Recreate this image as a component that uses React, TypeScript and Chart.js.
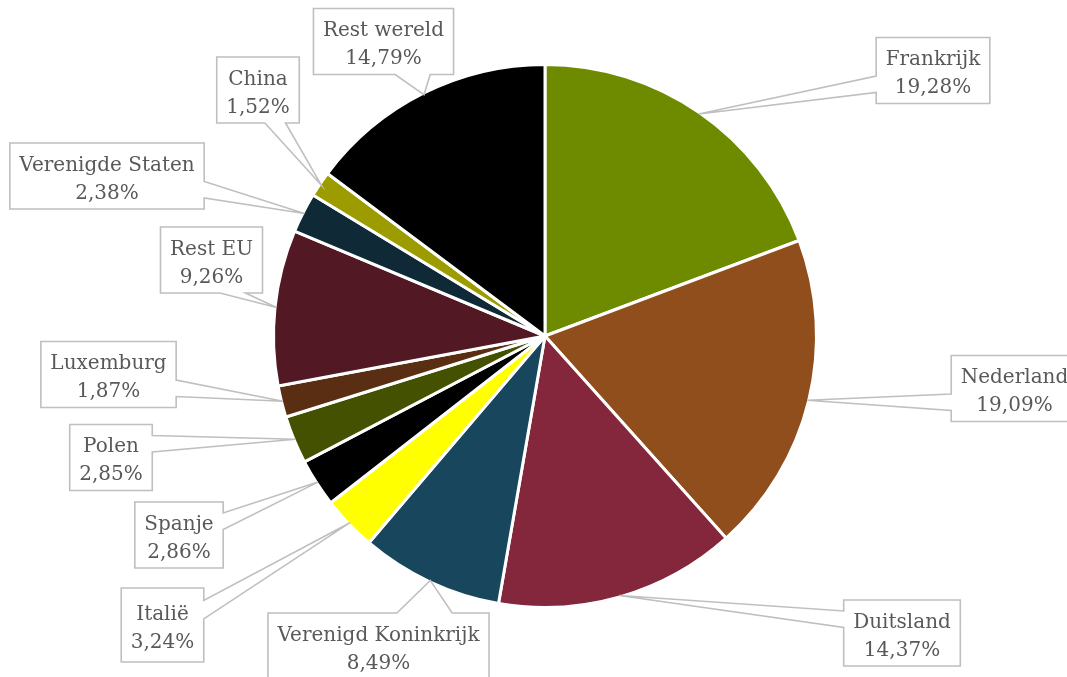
import React, { useEffect, useRef } from "react";
import { Chart, registerables } from "chart.js";

Chart.register(...registerables);

// ---------- data ----------
const categories = [
  "Frankrijk",
  "Nederland",
  "Duitsland",
  "Verenigd Koninkrijk",
  "Italië",
  "Spanje",
  "Polen",
  "Luxemburg",
  "Rest EU",
  "Verenigde Staten",
  "China",
  "Rest wereld",
];
const shares = [19.28, 19.09, 14.37, 8.49, 3.24, 2.86, 2.85, 1.87, 9.26, 2.38, 1.52, 14.79];
const sliceColors = [
  "#6E8B00",
  "#8F4E1B",
  "#84263C",
  "#18475D",
  "#FFFF00",
  "#000000",
  "#435100",
  "#5A2E12",
  "#521823",
  "#0F2A36",
  "#9C9C00",
  "#000000",
];

// ---------- layout (callout box centres / heights) ----------
const calloutCenters: [number, number][] = [
  [933, 70.5],
  [1014.5, 388.5],
  [902, 633],
  [378.5, 646],
  [162.5, 625],
  [179, 535],
  [111, 457.5],
  [108.5, 374.5],
  [211.5, 260],
  [107, 176],
  [258, 90],
  [383.5, 41.5],
];
const calloutHeights = [66, 66, 66, 66, 74, 66, 66, 66, 66, 66, 66, 66];

const FONT = '20px "DejaVu Serif", serif';
const TEXT_COLOR = "#595959";
const BOX_BORDER = "#BFBFBF";

const fmtPct = (v: number) => v.toFixed(2).replace(".", ",") + "%";

function wedgeRectPath(
  ctx: CanvasRenderingContext2D,
  l: number,
  t: number,
  w: number,
  h: number,
  px: number,
  py: number
) {
  const r = l + w;
  const b = t + h;
  const hc = l + w / 2;
  const vc = t + h / 2;
  const dx = px - hc;
  const dy = py - vc;
  const dq = (dx * h) / w;
  const dz = Math.abs(dy) - Math.abs(dq);
  const x1 = l + (w * (dx > 0 ? 7 : 2)) / 12;
  const x2 = l + (w * (dx > 0 ? 10 : 5)) / 12;
  const y1 = t + (h * (dy > 0 ? 7 : 2)) / 12;
  const y2 = t + (h * (dy > 0 ? 10 : 5)) / 12;
  ctx.beginPath();
  ctx.moveTo(l, t);
  if (dy < 0 && dz > 0) {
    ctx.lineTo(x1, t);
    ctx.lineTo(px, py);
    ctx.lineTo(x2, t);
  }
  ctx.lineTo(r, t);
  if (dx > 0 && dz <= 0) {
    ctx.lineTo(r, y1);
    ctx.lineTo(px, py);
    ctx.lineTo(r, y2);
  }
  ctx.lineTo(r, b);
  if (dy > 0 && dz > 0) {
    ctx.lineTo(x2, b);
    ctx.lineTo(px, py);
    ctx.lineTo(x1, b);
  }
  ctx.lineTo(l, b);
  if (dx < 0 && dz <= 0) {
    ctx.lineTo(l, y2);
    ctx.lineTo(px, py);
    ctx.lineTo(l, y1);
  }
  ctx.closePath();
}

const calloutPlugin = {
  id: "callouts",
  afterDraw(chart: any) {
    const ctx: CanvasRenderingContext2D = chart.ctx;
    const meta = chart.getDatasetMeta(0);
    ctx.save();
    ctx.font = FONT;
    meta.data.forEach((arc: any, i: number) => {
      const p = arc.getProps(["x", "y", "startAngle", "endAngle", "outerRadius"], true);
      const mid = (p.startAngle + p.endAngle) / 2;
      const rr = p.outerRadius - 1.5;
      const tipX = p.x + Math.cos(mid) * rr;
      const tipY = p.y + Math.sin(mid) * rr;
      const line1 = categories[i];
      const line2 = fmtPct(shares[i]);
      const tw = Math.max(ctx.measureText(line1).width, ctx.measureText(line2).width);
      const w = tw + 19;
      const h = calloutHeights[i];
      const [cx, cy] = calloutCenters[i];
      const l = cx - w / 2;
      const t = cy - h / 2;
      wedgeRectPath(ctx, l, t, w, h, tipX, tipY);
      ctx.fillStyle = "#FFFFFF";
      ctx.fill();
      ctx.lineWidth = 1.6;
      ctx.strokeStyle = BOX_BORDER;
      ctx.lineJoin = "miter";
      ctx.stroke();
      ctx.fillStyle = TEXT_COLOR;
      ctx.textAlign = "center";
      ctx.textBaseline = "alphabetic";
      ctx.fillText(line1, cx, cy - 5.5);
      ctx.fillText(line2, cx, cy + 22.5);
    });
    ctx.restore();
  },
};

export default function App() {
  const canvasRef = useRef<HTMLCanvasElement | null>(null);

  useEffect(() => {
    if (!canvasRef.current) return;
    const chart = new Chart(canvasRef.current, {
      type: "pie",
      data: {
        labels: categories,
        datasets: [
          {
            data: shares,
            backgroundColor: sliceColors,
            borderColor: "#FFFFFF",
            borderWidth: 3,
            hoverOffset: 0,
            offset: 0,
          },
        ],
      },
      options: {
        animation: false,
        responsive: true,
        maintainAspectRatio: false,
        layout: { padding: { left: 272, right: 249, top: 63, bottom: 68 } },
        plugins: {
          legend: { display: false },
          tooltip: { enabled: false },
        },
        events: [],
      },
      plugins: [calloutPlugin],
    });
    return () => chart.destroy();
  }, []);

  return (
    <div
      style={{
        position: "fixed",
        left: 0,
        top: 0,
        width: 1067,
        height: 677,
        background: "#FFFFFF",
        overflow: "hidden",
      }}
    >
      <canvas ref={canvasRef} />
    </div>
  );
}
